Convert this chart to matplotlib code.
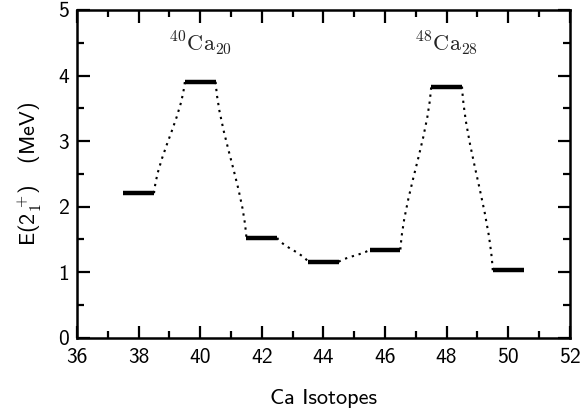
import matplotlib.pyplot as plt
import numpy as np
from matplotlib.path import Path
from matplotlib.patches import PathPatch

plt.rcParams['mathtext.fontset'] = 'cm'
plt.rcParams['font.family'] = ['cmss10', 'DejaVu Sans']

# First 2+ excitation energies of the calcium isotopes
mass_numbers = [38, 40, 42, 44, 46, 48, 50]
energies = [2.206, 3.904, 1.525, 1.157, 1.346, 3.832, 1.027]

half = 0.5  # half width of each level bar

fig, ax = plt.subplots(figsize=(5.88, 4.15), dpi=100)
fig.subplots_adjust(left=0.131, right=0.969, bottom=0.186, top=0.976)

# level bars
ax.hlines(energies, np.array(mass_numbers) - half, np.array(mass_numbers) + half,
          color='black', linewidth=3.2, zorder=3)

# dotted smooth connectors between neighbouring levels (cubic bezier)
for a0, e0, a1, e1 in zip(mass_numbers[:-1], energies[:-1], mass_numbers[1:], energies[1:]):
    x0, x1 = a0 + half, a1 - half
    dx, dy = x1 - x0, e1 - e0
    verts = [(x0, e0), (x0 + 0.12 * dx, e0 + dy / 3),
             (x1 - 0.12 * dx, e1 - dy / 3), (x1, e1)]
    codes = [Path.MOVETO, Path.CURVE4, Path.CURVE4, Path.CURVE4]
    ax.add_patch(PathPatch(Path(verts, codes), facecolor='none', edgecolor='black',
                           linewidth=1.5, linestyle=(0, (1.1, 2.3))))

ax.text(40, 4.29, r'$^{40}\mathrm{Ca}_{20}$', ha='center', va='bottom', fontsize=16, color='#222222')
ax.text(48, 4.29, r'$^{48}\mathrm{Ca}_{28}$', ha='center', va='bottom', fontsize=16, color='#222222')

ax.set_xlim(36, 52)
ax.set_ylim(0, 5)
ax.set_xticks(np.arange(36, 53, 2))
ax.set_xticks(np.arange(36, 53, 1), minor=True)
ax.set_yticks(np.arange(0, 6, 1))
ax.set_yticks(np.arange(0, 5.1, 0.5), minor=True)
ax.tick_params(which='both', direction='in', top=True, right=True, width=1.6, labelsize=15.5)
ax.tick_params(which='major', length=9)
ax.tick_params(axis='x', which='major', pad=7)
ax.tick_params(axis='y', which='major', pad=6)
ax.tick_params(which='minor', length=5)
for s in ax.spines.values():
    s.set_linewidth(1.8)

ax.set_xlabel('Ca Isotopes', fontsize=16, labelpad=16)
ax.set_ylabel(r'E(2$_\mathsf{1}^{\ \mathsf{+}}$)   (MeV)', fontsize=16, labelpad=10)

plt.savefig('out.png', dpi=100)
